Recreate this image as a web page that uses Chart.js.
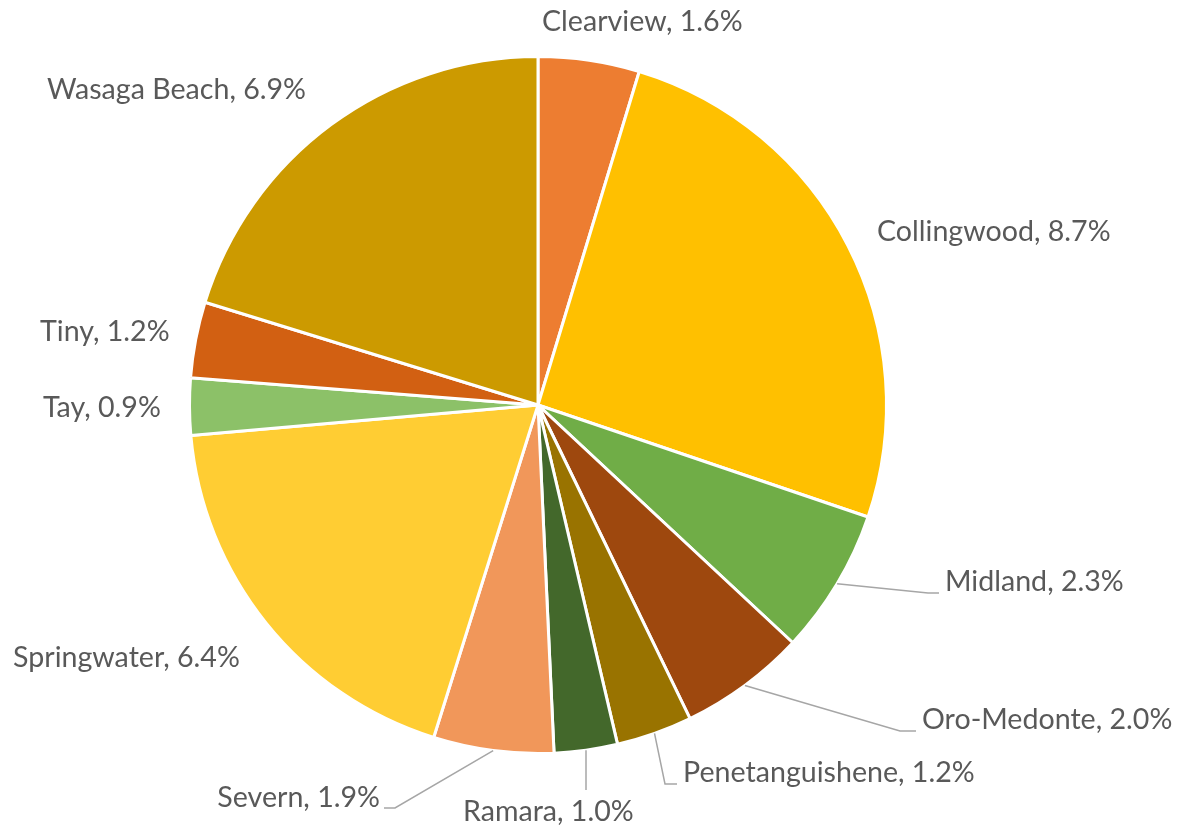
<!DOCTYPE html>
<html>
<head>
<meta charset="utf-8">
<script src="https://cdn.jsdelivr.net/npm/chart.js@4.4.1/dist/chart.umd.min.js"></script>
<style>
  html, body { margin: 0; padding: 0; background: #ffffff; }
  #wrap { width: 1181px; height: 830px; position: relative; }
</style>
</head>
<body>
<div id="wrap"><canvas id="pieChart"></canvas></div>
<script>
// share of total, by municipality
const towns = ['Clearview', 'Collingwood', 'Midland', 'Oro-Medonte', 'Penetanguishene',
  'Ramara', 'Severn', 'Springwater', 'Tay', 'Tiny', 'Wasaga Beach'];
const shares = [1.6, 8.7, 2.3, 2.0, 1.2, 1.0, 1.9, 6.4, 0.9, 1.2, 6.9];
const sliceColors = ['#ED7D31', '#FFC000', '#70AD47', '#9E480E', '#997300',
  '#43682B', '#F1975A', '#FFCD33', '#8CC168', '#D26012', '#CC9A00'];

// where each label sits, as px offsets from the pie centre; elbow = leader bend point
const labelLayout = [
  { dx: 4,    dy: -383, align: 'left' },
  { dx: 339,  dy: -173, align: 'left' },
  { dx: 407,  dy: 177,  align: 'left',  elbow: [390, 188] },
  { dx: 384,  dy: 315,  align: 'left',  elbow: [362, 326] },
  { dx: 145,  dy: 368,  align: 'left',  elbow: [127, 379] },
  { dx: -75,  dy: 407,  align: 'left',  elbow: [49, 385], straight: true },
  { dx: -158, dy: 393,  align: 'right', elbow: [-143, 403] },
  { dx: -525, dy: 253,  align: 'left' },
  { dx: -495, dy: 3,    align: 'left' },
  { dx: -498, dy: -73,  align: 'left' },
  { dx: -491, dy: -315, align: 'left' }
];

const labelPlugin = {
  id: 'sliceLabels',
  afterDatasetsDraw(chart) {
    const ctx = chart.ctx;
    const arcs = chart.getDatasetMeta(0).data;
    ctx.save();
    ctx.font = '28.6px Lato';
    ctx.fillStyle = '#595959';
    ctx.textBaseline = 'middle';
    arcs.forEach((arc, i) => {
      const lay = labelLayout[i];
      const cx = arc.x, cy = arc.y;
      const tx = cx + lay.dx, ty = cy + lay.dy;
      if (lay.elbow) {
        const mid = (arc.startAngle + arc.endAngle) / 2;
        const sx = cx + Math.cos(mid) * arc.outerRadius;
        const sy = cy + Math.sin(mid) * arc.outerRadius;
        const ex = cx + lay.elbow[0], ey = cy + lay.elbow[1];
        ctx.beginPath();
        ctx.strokeStyle = '#A6A6A6';
        ctx.lineWidth = 1.5;
        ctx.moveTo(sx, sy);
        if (lay.straight) {
          ctx.lineTo(sx, ey);
        } else {
          ctx.lineTo(ex, ey);
          ctx.lineTo(lay.align === 'left' ? tx - 6 : tx + 4, ey);
        }
        ctx.stroke();
      }
      ctx.textAlign = lay.align;
      ctx.fillText(towns[i] + ', ' + shares[i].toFixed(1) + '%', tx, ty);
    });
    ctx.restore();
  }
};

new Chart(document.getElementById('pieChart'), {
  type: 'pie',
  data: {
    labels: towns,
    datasets: [{
      data: shares,
      backgroundColor: sliceColors,
      borderColor: '#ffffff',
      borderWidth: 3
    }]
  },
  options: {
    responsive: true,
    maintainAspectRatio: false,
    animation: false,
    layout: { padding: { left: 188, right: 293, top: 55, bottom: 75 } },
    plugins: {
      legend: { display: false },
      tooltip: { enabled: false }
    }
  },
  plugins: [labelPlugin]
});
</script>
</body>
</html>
